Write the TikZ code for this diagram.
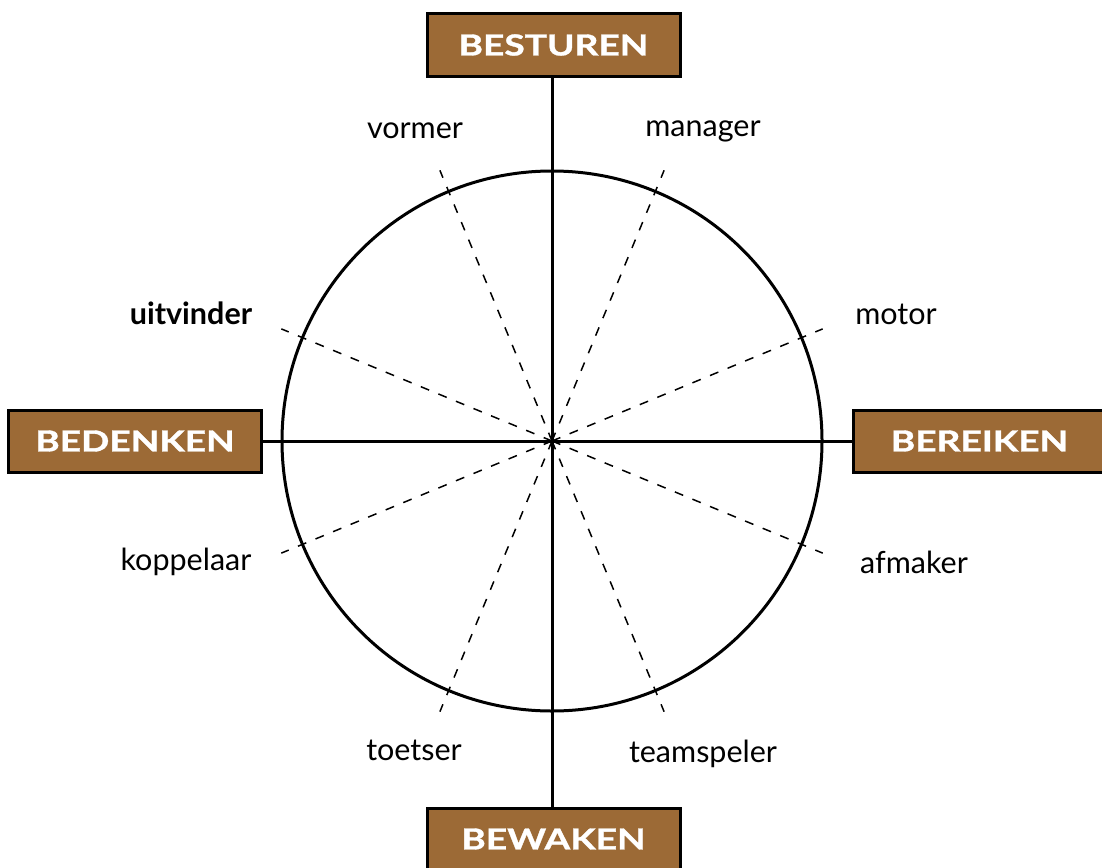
\documentclass[tikz,border=0pt]{standalone}
\usepackage{fontspec}
\setmainfont{Lato}
\newfontfamily\boxfont[FakeStretch=1.28,FakeBold=1.2]{Lato}
\usetikzlibrary{calc}
\definecolor{boxbrown}{HTML}{9C6A36}
\begin{document}
\begin{tikzpicture}[x=1pt,y=-1pt,
  catbox/.style={draw=black,line width=3pt,fill=boxbrown,minimum width=253pt,minimum height=62pt,inner sep=0pt,
    font=\boxfont\fontsize{29}{30}\selectfont\bfseries,text=white},
  role/.style={font=\fontsize{30.5}{32}\selectfont,text=black,inner sep=0pt},
  axis/.style={line width=3pt},
  spoke/.style={line width=1.5pt,dash pattern=on 9pt off 10pt}]
\clip (0,0) rectangle (1102,867);
\coordinate (c) at (552,441);
\node[catbox] (top) at (553.5,45) {BESTUREN};
\node[catbox] (left) at (135,441) {BEDENKEN};
\node[catbox] (right) at (979.5,441) {BEREIKEN};
\node[catbox] (bottom) at (553.5,839) {BEWAKEN};
\draw[axis] (c) circle[radius=270];
\draw[axis] (top.south -| c) -- (bottom.north -| c);
\draw[axis] (left.east) -- (right.west);
\foreach \a/\n in {22.5/a,67.5/b,112.5/d,157.5/e,202.5/f,247.5/g,292.5/h,337.5/i}{
  \coordinate (s\n) at ($(c)+(\a:293)$);
  \draw[spoke] (c) -- (s\n);
}
\node[role] (vormer) at (415,131) {vormer};
\node[role] (manager) at (703,131) {manager};
\node[role,font=\fontsize{30.5}{32}\selectfont\bfseries] (uitvinder) at (191,313) {uitvinder};
\node[role] (motor) at (896,314) {motor};
\node[role] (koppelaar) at (186,562) {koppelaar};
\node[role] (afmaker) at (914,562) {afmaker};
\node[role] (toetser) at (414,750) {toetser};
\node[role] (teamspeler) at (703,754) {teamspeler};
\end{tikzpicture}
\end{document}
